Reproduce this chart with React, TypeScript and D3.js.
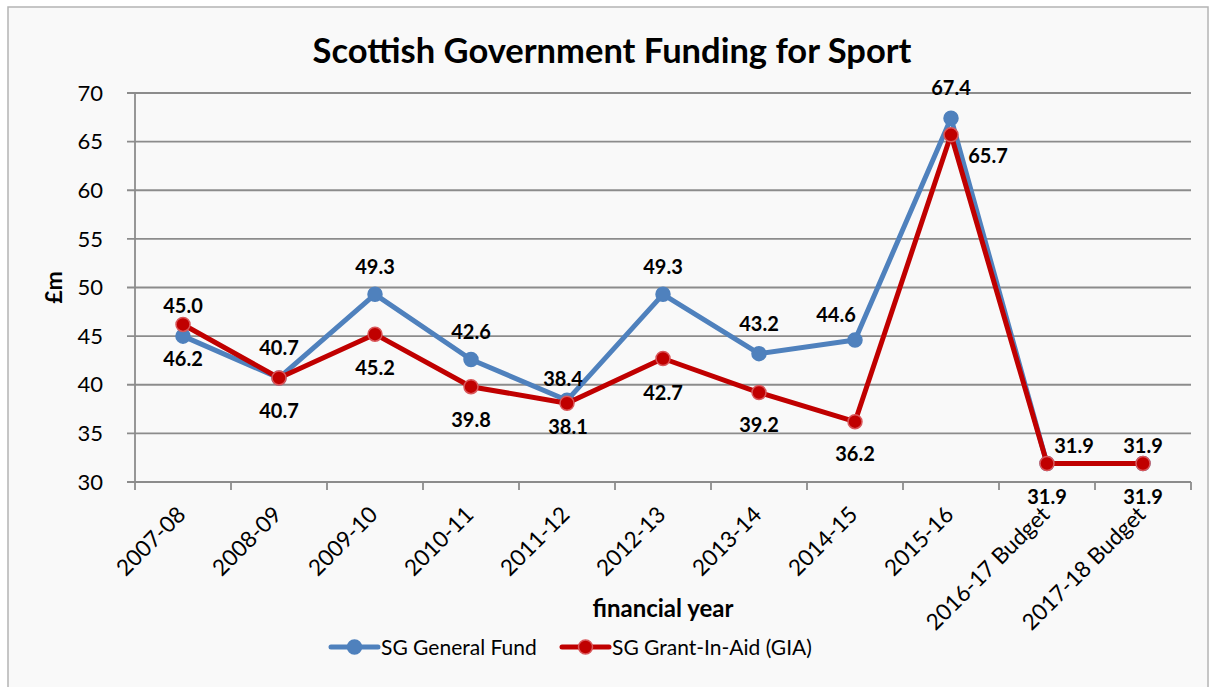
import { useEffect, useRef } from "react";
import * as d3 from "d3";

const years = [
  "2007-08", "2008-09", "2009-10", "2010-11", "2011-12", "2012-13",
  "2013-14", "2014-15", "2015-16", "2016-17 Budget", "2017-18 Budget",
];
const generalFund = [45.0, 40.7, 49.3, 42.6, 38.4, 49.3, 43.2, 44.6, 67.4, 31.9, 31.9];
const grantInAid = [46.2, 40.7, 45.2, 39.8, 38.1, 42.7, 39.2, 36.2, 65.7, 31.9, 31.9];
const yTicks = [30, 35, 40, 45, 50, 55, 60, 65, 70];

// label nudges (dx, dy from the point), roughly as Excel placed them
const blueLabelShift: [number, number][] = [
  [0, -30], [0, -30], [0, -28], [0, -28], [-4, -22], [0, -28],
  [0, -30], [-19, -25], [0, -30], [27, -18], [0, -18],
];
const redLabelShift: [number, number][] = [
  [0, 34], [0, 33], [0, 34], [0, 33], [1, 24], [0, 34],
  [0, 32], [0, 32], [37, 21], [0, 33], [0, 33],
];

const FONT = "Lato, 'Open Sans', sans-serif";

export default function App() {
  const ref = useRef<SVGSVGElement | null>(null);

  useEffect(() => {
    if (!ref.current) return;
    const svg = d3.select(ref.current);
    svg.selectAll("*").remove();

    const width = 1216;
    const height = 687;
    const margin = { top: 93, right: 25, bottom: 205, left: 135 };

    // chart frame
    svg.append("rect")
      .attr("x", 8).attr("y", 7)
      .attr("width", 1200).attr("height", 700)
      .attr("fill", "#f9f9f9")
      .attr("stroke", "#b4b4b4")
      .attr("stroke-width", 1.5);

    const x = d3.scaleBand()
      .domain(years)
      .range([margin.left, width - margin.right])
      .paddingInner(0).paddingOuter(0);

    const y = d3.scaleLinear()
      .domain([30, 70])
      .range([height - margin.bottom, margin.top]);

    const x0 = margin.left;
    const x1 = margin.left + x.bandwidth() * years.length;
    const yBottom = y(30);

    // gridlines
    svg.append("g")
      .selectAll("line")
      .data(yTicks)
      .enter()
      .append("line")
      .attr("x1", x0 - 8)
      .attr("x2", x1)
      .attr("y1", d => y(d))
      .attr("y2", d => y(d))
      .attr("stroke", "#8c8c8c")
      .attr("stroke-width", 1.8);

    // y axis line
    svg.append("line")
      .attr("x1", x0).attr("x2", x0)
      .attr("y1", y(70)).attr("y2", yBottom)
      .attr("stroke", "#8c8c8c").attr("stroke-width", 1.8);

    // x ticks at band edges
    const edges = years.map(d => x(d)!).concat([x1]);
    svg.append("g")
      .selectAll("line")
      .data(edges)
      .enter()
      .append("line")
      .attr("x1", d => d).attr("x2", d => d)
      .attr("y1", yBottom).attr("y2", yBottom + 8)
      .attr("stroke", "#8c8c8c").attr("stroke-width", 1.8);

    // y tick labels
    svg.append("g")
      .selectAll("text")
      .data(yTicks)
      .enter()
      .append("text")
      .attr("x", x0 - 32)
      .attr("y", d => y(d))
      .attr("dy", "0.35em")
      .attr("text-anchor", "end")
      .attr("font-family", FONT)
      .attr("font-size", 22)
      .attr("fill", "#000")
      .text(d => d);

    // x tick labels
    svg.append("g")
      .selectAll("text")
      .data(years)
      .enter()
      .append("text")
      .attr("transform", d => `translate(${x(d)! + x.bandwidth() / 2 + 4},${yBottom + 34}) rotate(-45)`)
      .attr("text-anchor", "end")
      .attr("font-family", FONT)
      .attr("font-size", 22.5)
      .attr("fill", "#000")
      .text(d => d);

    const cx = (i: number) => x(years[i])! + x.bandwidth() / 2;

    const series = [
      { name: "SG General Fund", values: generalFund, color: "#4f81bd", edge: "#4f81bd", shift: blueLabelShift },
      { name: "SG Grant-In-Aid (GIA)", values: grantInAid, color: "#c00000", edge: "#d9575a", shift: redLabelShift },
    ];

    const line = d3.line<number>()
      .x((_, i) => cx(i))
      .y(d => y(d));

    series.forEach(s => {
      svg.append("path")
        .datum(s.values)
        .attr("d", line)
        .attr("fill", "none")
        .attr("stroke", s.color)
        .attr("stroke-width", 5)
        .attr("stroke-linejoin", "round");

      svg.append("g")
        .selectAll("circle")
        .data(s.values)
        .enter()
        .append("circle")
        .attr("cx", (_, i) => cx(i))
        .attr("cy", d => y(d))
        .attr("r", 7)
        .attr("fill", s.color)
        .attr("stroke", s.edge)
        .attr("stroke-width", 1.5);
    });

    // data labels
    series.forEach(s => {
      svg.append("g")
        .selectAll("text")
        .data(s.values)
        .enter()
        .append("text")
        .attr("x", (_, i) => cx(i) + s.shift[i][0])
        .attr("y", (d, i) => y(d) + s.shift[i][1])
        .attr("dy", "0.36em")
        .attr("text-anchor", "middle")
        .attr("font-family", FONT)
        .attr("font-weight", "bold")
        .attr("font-size", 20)
        .attr("fill", "#000")
        .text(d => d.toFixed(1));
    });

    // Title
    svg.append("text")
      .attr("x", 612)
      .attr("y", 63)
      .attr("text-anchor", "middle")
      .attr("font-family", FONT)
      .attr("font-weight", "bold")
      .attr("font-size", 34.5)
      .attr("fill", "#000")
      .text("Scottish Government Funding for Sport");

    // y axis label
    svg.append("text")
      .attr("transform", `translate(54,${y(50)}) rotate(-90)`)
      .attr("text-anchor", "middle")
      .attr("dy", "0.35em")
      .attr("font-family", FONT)
      .attr("font-weight", "bold")
      .attr("font-size", 23)
      .attr("fill", "#000")
      .text("£m");

    // x axis label
    svg.append("text")
      .attr("x", (x0 + x1) / 2)
      .attr("y", 617)
      .attr("text-anchor", "middle")
      .attr("font-family", FONT)
      .attr("font-weight", "bold")
      .attr("font-size", 24)
      .attr("fill", "#000")
      .text("financial year");

    // legend
    const legendX = [331, 562];
    const legendY = 647;
    series.forEach((s, i) => {
      const lx = legendX[i];
      svg.append("line")
        .attr("x1", lx).attr("x2", lx + 47)
        .attr("y1", legendY).attr("y2", legendY)
        .attr("stroke", s.color).attr("stroke-width", 5)
        .attr("stroke-linecap", "round");
      svg.append("circle")
        .attr("cx", lx + 23.5).attr("cy", legendY).attr("r", 7)
        .attr("fill", s.color).attr("stroke", s.edge).attr("stroke-width", 1.5);
      svg.append("text")
        .attr("x", lx + 50)
        .attr("y", legendY)
        .attr("dy", "0.36em")
        .attr("font-family", FONT)
        .attr("font-size", 21)
        .attr("fill", "#000")
        .text(s.name);
    });
  }, []);

  return (
    <svg
      ref={ref}
      width={1216}
      height={687}
      style={{ position: "absolute", left: 0, top: 0, background: "#fff" }}
    />
  );
}
